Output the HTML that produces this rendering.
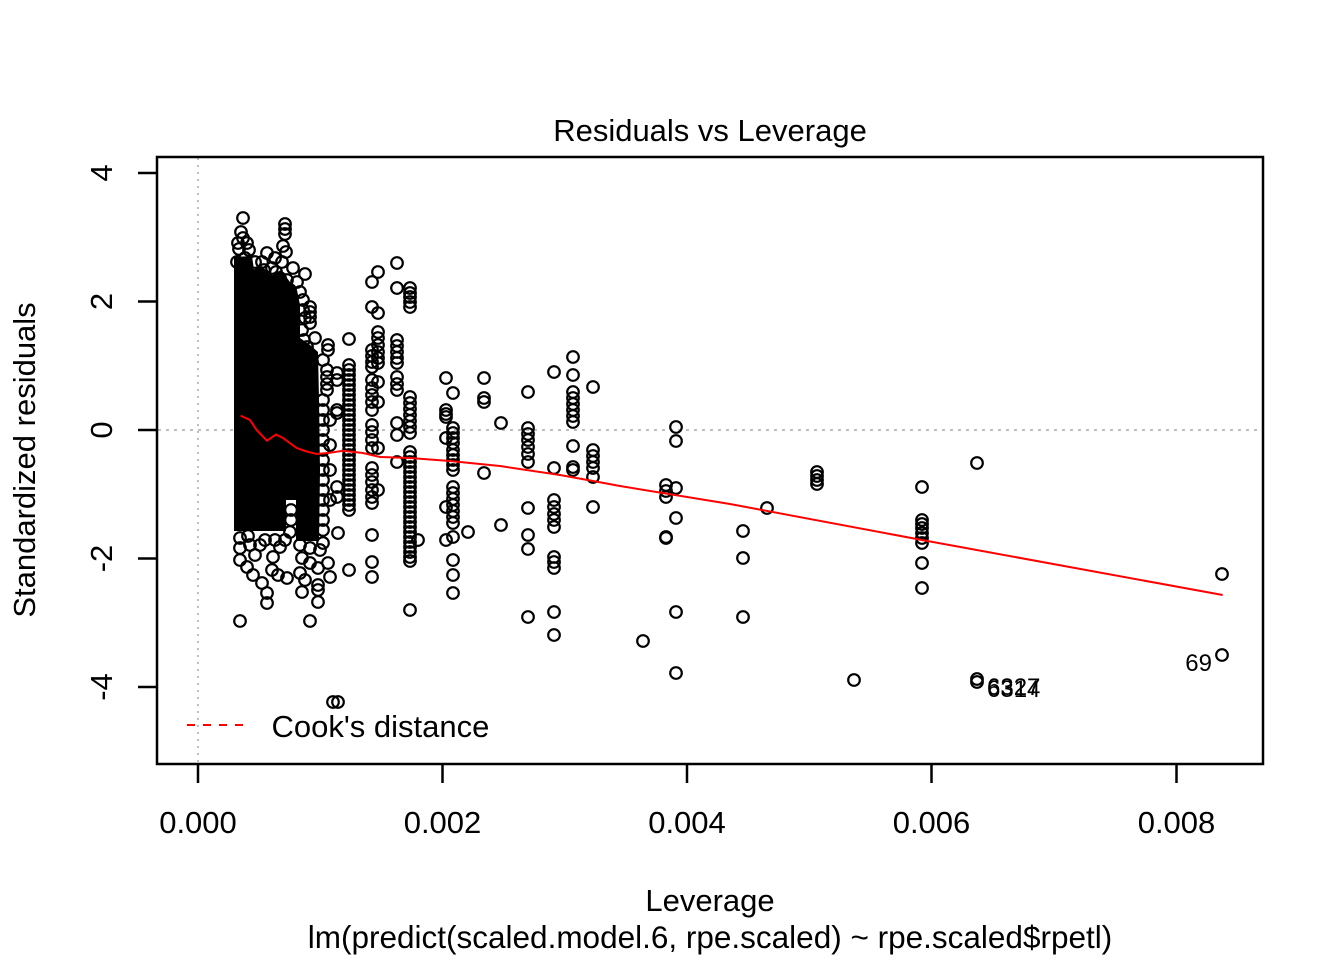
<!DOCTYPE html>
<html><head><meta charset="utf-8"><style>
html,body{margin:0;padding:0;background:#fff;}
svg{display:block;}
text{font-family:"Liberation Sans",Arial,sans-serif;fill:#000;}
</style></head><body>
<svg width="1344" height="960" viewBox="0 0 1344 960" xmlns="http://www.w3.org/2000/svg">
<rect width="1344" height="960" fill="#fff"/>
<line x1="198" y1="158" x2="198" y2="763" stroke="#bebebe" stroke-width="2" stroke-dasharray="2,5"/>
<line x1="158" y1="430" x2="1262" y2="430" stroke="#bebebe" stroke-width="2" stroke-dasharray="3,5"/>
<path d="M234,257 L252,256 L254,270 L262,266 L271,276 L281,270 L290,282 L297,290 L300,305 L300,338 L310,345 L318,352 L319,400 L320,470 L319,541 L296,541 L296,500 L286,500 L286,531 L234,531 Z" fill="#000"/>
<g fill="none" stroke="#000" stroke-width="2.2">
<circle cx="243" cy="218" r="5.8"/><circle cx="241" cy="232" r="5.8"/><circle cx="243" cy="238" r="5.8"/><circle cx="238" cy="243" r="5.8"/><circle cx="247" cy="243" r="5.8"/><circle cx="239" cy="249" r="5.8"/><circle cx="249" cy="250" r="5.8"/>
<circle cx="285" cy="224" r="5.8"/><circle cx="285" cy="229" r="5.8"/><circle cx="285" cy="234" r="5.8"/><circle cx="283" cy="246" r="5.8"/><circle cx="286" cy="252" r="5.8"/>
<circle cx="267" cy="253" r="5.8"/><circle cx="275" cy="258" r="5.8"/><circle cx="262" cy="262" r="5.8"/><circle cx="272" cy="268" r="5.8"/><circle cx="282" cy="262" r="5.8"/><circle cx="293" cy="268" r="5.8"/><circle cx="305" cy="274" r="5.8"/><circle cx="276" cy="272" r="5.8"/><circle cx="287" cy="280" r="5.8"/><circle cx="297" cy="282" r="5.8"/><circle cx="260" cy="283" r="5.8"/><circle cx="258" cy="295" r="5.8"/><circle cx="268" cy="300" r="5.8"/><circle cx="290" cy="290" r="5.8"/><circle cx="278" cy="288" r="5.8"/><circle cx="258" cy="275" r="5.8"/><circle cx="266" cy="285" r="5.8"/>
<circle cx="255" cy="262" r="5.8"/><circle cx="264" cy="270" r="5.8"/><circle cx="280" cy="278" r="5.8"/><circle cx="292" cy="298" r="5.8"/><circle cx="300" cy="292" r="5.8"/><circle cx="303" cy="300" r="5.8"/><circle cx="237" cy="262" r="5.8"/><circle cx="245" cy="258" r="5.8"/>
<circle cx="310" cy="307" r="5.8"/><circle cx="310" cy="312" r="5.8"/><circle cx="310" cy="317" r="5.8"/><circle cx="310" cy="323" r="5.8"/>
<circle cx="307" cy="347" r="5.8"/><circle cx="307" cy="352" r="5.8"/><circle cx="307" cy="357" r="5.8"/><circle cx="328" cy="345" r="5.8"/><circle cx="328" cy="350" r="5.8"/><circle cx="323" cy="360" r="5.8"/><circle cx="310" cy="370" r="5.8"/><circle cx="327" cy="370" r="5.8"/><circle cx="327" cy="377" r="5.8"/><circle cx="327" cy="384" r="5.8"/><circle cx="327" cy="390" r="5.8"/><circle cx="302" cy="330" r="5.8"/><circle cx="315" cy="338" r="5.8"/><circle cx="304" cy="340" r="5.8"/><circle cx="312" cy="362" r="5.8"/><circle cx="305" cy="318" r="5.8"/><circle cx="303" cy="310" r="5.8"/>
<circle cx="323" cy="400" r="5.8"/><circle cx="323" cy="410" r="5.8"/><circle cx="323" cy="420" r="5.8"/><circle cx="323" cy="430" r="5.8"/><circle cx="323" cy="440" r="5.8"/><circle cx="323" cy="450" r="5.8"/><circle cx="323" cy="460" r="5.8"/><circle cx="323" cy="470" r="5.8"/><circle cx="323" cy="480" r="5.8"/><circle cx="323" cy="490" r="5.8"/><circle cx="323" cy="500" r="5.8"/><circle cx="323" cy="510" r="5.8"/><circle cx="323" cy="520" r="5.8"/><circle cx="323" cy="530" r="5.8"/>
<circle cx="330" cy="420" r="5.8"/><circle cx="330" cy="445" r="5.8"/><circle cx="330" cy="470" r="5.8"/><circle cx="330" cy="500" r="5.8"/>
<circle cx="337" cy="373" r="5.8"/><circle cx="337" cy="380" r="5.8"/><circle cx="337" cy="410" r="5.8"/><circle cx="337" cy="413" r="5.8"/><circle cx="337" cy="487" r="5.8"/><circle cx="337" cy="497" r="5.8"/>
<circle cx="240" cy="538" r="5.8"/><circle cx="240" cy="548" r="5.8"/><circle cx="240" cy="560" r="5.8"/><circle cx="247" cy="567" r="5.8"/><circle cx="253" cy="575" r="5.8"/><circle cx="262" cy="583" r="5.8"/><circle cx="267" cy="593" r="5.8"/><circle cx="267" cy="603" r="5.8"/><circle cx="240" cy="621" r="5.8"/><circle cx="272" cy="570" r="5.8"/><circle cx="278" cy="575" r="5.8"/><circle cx="287" cy="578" r="5.8"/><circle cx="273" cy="557" r="5.8"/><circle cx="280" cy="547" r="5.8"/><circle cx="290" cy="532" r="5.8"/><circle cx="302" cy="558" r="5.8"/><circle cx="300" cy="573" r="5.8"/><circle cx="302" cy="592" r="5.8"/><circle cx="310" cy="563" r="5.8"/><circle cx="318" cy="568" r="5.8"/><circle cx="318" cy="585" r="5.8"/><circle cx="318" cy="590" r="5.8"/><circle cx="318" cy="602" r="5.8"/><circle cx="310" cy="621" r="5.8"/><circle cx="328" cy="563" r="5.8"/><circle cx="330" cy="577" r="5.8"/><circle cx="338" cy="533" r="5.8"/><circle cx="323" cy="543" r="5.8"/><circle cx="320" cy="550" r="5.8"/><circle cx="300" cy="545" r="5.8"/><circle cx="260" cy="545" r="5.8"/><circle cx="255" cy="555" r="5.8"/><circle cx="265" cy="540" r="5.8"/><circle cx="275" cy="540" r="5.8"/><circle cx="285" cy="540" r="5.8"/><circle cx="310" cy="548" r="5.8"/><circle cx="248" cy="536" r="5.8"/><circle cx="305" cy="580" r="5.8"/><circle cx="291" cy="510" r="5.8"/><circle cx="291" cy="520" r="5.8"/><circle cx="250" cy="545" r="5.8"/>
<circle cx="333" cy="702" r="5.8"/><circle cx="338" cy="702" r="5.8"/>
<circle cx="349" cy="339" r="5.8"/><circle cx="349" cy="365" r="5.8"/><circle cx="349" cy="370" r="5.8"/><circle cx="349" cy="375" r="5.8"/><circle cx="349" cy="380" r="5.8"/><circle cx="349" cy="385" r="5.8"/><circle cx="349" cy="390" r="5.8"/><circle cx="349" cy="395" r="5.8"/><circle cx="349" cy="400" r="5.8"/><circle cx="349" cy="405" r="5.8"/><circle cx="349" cy="410" r="5.8"/><circle cx="349" cy="415" r="5.8"/><circle cx="349" cy="420" r="5.8"/><circle cx="349" cy="425" r="5.8"/><circle cx="349" cy="430" r="5.8"/><circle cx="349" cy="435" r="5.8"/><circle cx="349" cy="440" r="5.8"/><circle cx="349" cy="445" r="5.8"/><circle cx="349" cy="450" r="5.8"/><circle cx="349" cy="455" r="5.8"/><circle cx="349" cy="460" r="5.8"/><circle cx="349" cy="465" r="5.8"/><circle cx="349" cy="470" r="5.8"/><circle cx="349" cy="475" r="5.8"/><circle cx="349" cy="480" r="5.8"/><circle cx="349" cy="485" r="5.8"/><circle cx="349" cy="490" r="5.8"/><circle cx="349" cy="495" r="5.8"/><circle cx="349" cy="500" r="5.8"/><circle cx="349" cy="505" r="5.8"/><circle cx="349" cy="510" r="5.8"/><circle cx="349" cy="570" r="5.8"/>
<circle cx="372" cy="282" r="5.8"/><circle cx="372" cy="307" r="5.8"/><circle cx="372" cy="350" r="5.8"/><circle cx="372" cy="356" r="5.8"/><circle cx="372" cy="362" r="5.8"/><circle cx="372" cy="367" r="5.8"/><circle cx="372" cy="380" r="5.8"/><circle cx="372" cy="388" r="5.8"/><circle cx="372" cy="395" r="5.8"/><circle cx="372" cy="402" r="5.8"/><circle cx="372" cy="410" r="5.8"/><circle cx="372" cy="425" r="5.8"/><circle cx="372" cy="432" r="5.8"/><circle cx="372" cy="440" r="5.8"/><circle cx="372" cy="448" r="5.8"/><circle cx="372" cy="468" r="5.8"/><circle cx="372" cy="475" r="5.8"/><circle cx="372" cy="482" r="5.8"/><circle cx="372" cy="490" r="5.8"/><circle cx="372" cy="497" r="5.8"/><circle cx="372" cy="503" r="5.8"/><circle cx="372" cy="535" r="5.8"/><circle cx="372" cy="562" r="5.8"/><circle cx="372" cy="577" r="5.8"/>
<circle cx="378" cy="272" r="5.8"/><circle cx="378" cy="313" r="5.8"/><circle cx="378" cy="332" r="5.8"/><circle cx="378" cy="338" r="5.8"/><circle cx="378" cy="345" r="5.8"/><circle cx="378" cy="352" r="5.8"/><circle cx="378" cy="358" r="5.8"/><circle cx="378" cy="363" r="5.8"/><circle cx="378" cy="382" r="5.8"/><circle cx="378" cy="402" r="5.8"/><circle cx="378" cy="448" r="5.8"/><circle cx="378" cy="490" r="5.8"/>
<circle cx="397" cy="263" r="5.8"/><circle cx="397" cy="288" r="5.8"/><circle cx="397" cy="340" r="5.8"/><circle cx="397" cy="346" r="5.8"/><circle cx="397" cy="352" r="5.8"/><circle cx="397" cy="358" r="5.8"/><circle cx="397" cy="363" r="5.8"/><circle cx="397" cy="377" r="5.8"/><circle cx="397" cy="384" r="5.8"/><circle cx="397" cy="390" r="5.8"/><circle cx="397" cy="423" r="5.8"/><circle cx="397" cy="435" r="5.8"/><circle cx="397" cy="462" r="5.8"/>
<circle cx="410" cy="288" r="5.8"/><circle cx="410" cy="293" r="5.8"/><circle cx="410" cy="297" r="5.8"/><circle cx="410" cy="302" r="5.8"/><circle cx="410" cy="307" r="5.8"/><circle cx="410" cy="397" r="5.8"/><circle cx="410" cy="403" r="5.8"/><circle cx="410" cy="409" r="5.8"/><circle cx="410" cy="415" r="5.8"/><circle cx="410" cy="421" r="5.8"/><circle cx="410" cy="427" r="5.8"/><circle cx="410" cy="433" r="5.8"/>
<circle cx="410" cy="452" r="5.8"/><circle cx="410" cy="457" r="5.8"/><circle cx="410" cy="462" r="5.8"/><circle cx="410" cy="467" r="5.8"/><circle cx="410" cy="472" r="5.8"/><circle cx="410" cy="477" r="5.8"/><circle cx="410" cy="482" r="5.8"/><circle cx="410" cy="487" r="5.8"/><circle cx="410" cy="492" r="5.8"/><circle cx="410" cy="497" r="5.8"/><circle cx="410" cy="502" r="5.8"/><circle cx="410" cy="507" r="5.8"/><circle cx="410" cy="512" r="5.8"/><circle cx="410" cy="517" r="5.8"/><circle cx="410" cy="522" r="5.8"/><circle cx="410" cy="527" r="5.8"/><circle cx="410" cy="532" r="5.8"/><circle cx="410" cy="537" r="5.8"/><circle cx="410" cy="542" r="5.8"/><circle cx="410" cy="547" r="5.8"/><circle cx="410" cy="552" r="5.8"/><circle cx="410" cy="557" r="5.8"/><circle cx="410" cy="561" r="5.8"/><circle cx="410" cy="610" r="5.8"/><circle cx="418" cy="540" r="5.8"/>
<circle cx="446" cy="378" r="5.8"/><circle cx="446" cy="410" r="5.8"/><circle cx="446" cy="414" r="5.8"/><circle cx="446" cy="417" r="5.8"/><circle cx="446" cy="438" r="5.8"/><circle cx="446" cy="507" r="5.8"/><circle cx="446" cy="540" r="5.8"/>
<circle cx="453" cy="393" r="5.8"/><circle cx="453" cy="428" r="5.8"/><circle cx="453" cy="433" r="5.8"/><circle cx="453" cy="438" r="5.8"/><circle cx="453" cy="443" r="5.8"/><circle cx="453" cy="450" r="5.8"/><circle cx="453" cy="455" r="5.8"/><circle cx="453" cy="460" r="5.8"/><circle cx="453" cy="465" r="5.8"/><circle cx="453" cy="470" r="5.8"/><circle cx="453" cy="487" r="5.8"/><circle cx="453" cy="493" r="5.8"/><circle cx="453" cy="499" r="5.8"/><circle cx="453" cy="505" r="5.8"/><circle cx="453" cy="511" r="5.8"/><circle cx="453" cy="517" r="5.8"/><circle cx="453" cy="523" r="5.8"/><circle cx="453" cy="537" r="5.8"/><circle cx="453" cy="560" r="5.8"/><circle cx="453" cy="575" r="5.8"/><circle cx="453" cy="593" r="5.8"/>
<circle cx="468" cy="532" r="5.8"/>
<circle cx="484" cy="378" r="5.8"/><circle cx="484" cy="398" r="5.8"/><circle cx="484" cy="402" r="5.8"/><circle cx="484" cy="473" r="5.8"/>
<circle cx="501" cy="423" r="5.8"/><circle cx="501" cy="525" r="5.8"/>
<circle cx="528" cy="392" r="5.8"/><circle cx="528" cy="428" r="5.8"/><circle cx="528" cy="434" r="5.8"/><circle cx="528" cy="440" r="5.8"/><circle cx="528" cy="447" r="5.8"/><circle cx="528" cy="454" r="5.8"/><circle cx="528" cy="462" r="5.8"/><circle cx="528" cy="508" r="5.8"/><circle cx="528" cy="535" r="5.8"/><circle cx="528" cy="549" r="5.8"/><circle cx="528" cy="617" r="5.8"/>
<circle cx="554" cy="372" r="5.8"/><circle cx="554" cy="468" r="5.8"/><circle cx="554" cy="500" r="5.8"/><circle cx="554" cy="507" r="5.8"/><circle cx="554" cy="514" r="5.8"/><circle cx="554" cy="520" r="5.8"/><circle cx="554" cy="527" r="5.8"/><circle cx="554" cy="557" r="5.8"/><circle cx="554" cy="562" r="5.8"/><circle cx="554" cy="568" r="5.8"/><circle cx="554" cy="612" r="5.8"/><circle cx="554" cy="635" r="5.8"/>
<circle cx="573" cy="357" r="5.8"/><circle cx="573" cy="375" r="5.8"/><circle cx="573" cy="392" r="5.8"/><circle cx="573" cy="398" r="5.8"/><circle cx="573" cy="404" r="5.8"/><circle cx="573" cy="410" r="5.8"/><circle cx="573" cy="416" r="5.8"/><circle cx="573" cy="422" r="5.8"/><circle cx="573" cy="446" r="5.8"/><circle cx="573" cy="467" r="5.8"/><circle cx="573" cy="470" r="5.8"/>
<circle cx="593" cy="387" r="5.8"/><circle cx="593" cy="450" r="5.8"/><circle cx="593" cy="456" r="5.8"/><circle cx="593" cy="462" r="5.8"/><circle cx="593" cy="468" r="5.8"/><circle cx="593" cy="477" r="5.8"/><circle cx="593" cy="507" r="5.8"/>
<circle cx="643" cy="641" r="5.8"/>
<circle cx="666" cy="485" r="5.8"/><circle cx="666" cy="491" r="5.8"/><circle cx="666" cy="497" r="5.8"/><circle cx="666" cy="537" r="5.8"/><circle cx="666" cy="538" r="5.8"/>
<circle cx="676" cy="427" r="5.8"/><circle cx="676" cy="441" r="5.8"/><circle cx="676" cy="488" r="5.8"/><circle cx="676" cy="518" r="5.8"/><circle cx="676" cy="612" r="5.8"/><circle cx="676" cy="673" r="5.8"/>
<circle cx="743" cy="531" r="5.8"/><circle cx="743" cy="558" r="5.8"/><circle cx="743" cy="617" r="5.8"/>
<circle cx="767" cy="508" r="5.8"/>
<circle cx="817" cy="472" r="5.8"/><circle cx="817" cy="476" r="5.8"/><circle cx="817" cy="480" r="5.8"/><circle cx="817" cy="484" r="5.8"/>
<circle cx="854" cy="680" r="5.8"/>
<circle cx="922" cy="487" r="5.8"/><circle cx="922" cy="520" r="5.8"/><circle cx="922" cy="524" r="5.8"/><circle cx="922" cy="528" r="5.8"/><circle cx="922" cy="533" r="5.8"/><circle cx="922" cy="538" r="5.8"/><circle cx="922" cy="543" r="5.8"/><circle cx="922" cy="563" r="5.8"/><circle cx="922" cy="588" r="5.8"/>
<circle cx="977" cy="463" r="5.8"/><circle cx="977" cy="679" r="5.8"/><circle cx="977" cy="682" r="5.8"/>
<circle cx="1222" cy="574" r="5.8"/><circle cx="1222" cy="655" r="5.8"/>
</g>
<polyline fill="none" stroke="#ff0000" stroke-width="2" points="240.7,415.7 250,420 256.7,430 267,440.7 276,434.5 283,438 296.7,448 305,451 316.7,454 330,452.7 343,450.7 363,453 380,457 410,458 450,461 500,466 560,475 593,481 620,486 730,504 922,540 1222.7,595"/>
<text x="1212" y="671" font-size="24" text-anchor="end">69</text>
<text x="987" y="695" font-size="24">6327</text>
<text x="987" y="697" font-size="24">6314</text>
<line x1="187" y1="725" x2="245" y2="725" stroke="#ff0000" stroke-width="2" stroke-dasharray="8,8"/>
<text x="271.5" y="737" font-size="31">Cook's distance</text>
<rect x="157" y="157" width="1106" height="607" fill="none" stroke="#000" stroke-width="2.5"/>
<g stroke="#000" stroke-width="2.5">
<line x1="198" y1="764" x2="198" y2="783"/><line x1="442.5" y1="764" x2="442.5" y2="783"/><line x1="687" y1="764" x2="687" y2="783"/><line x1="931.5" y1="764" x2="931.5" y2="783"/><line x1="1176.5" y1="764" x2="1176.5" y2="783"/>
<line x1="138" y1="173" x2="157" y2="173"/><line x1="138" y1="301.5" x2="157" y2="301.5"/><line x1="138" y1="430" x2="157" y2="430"/><line x1="138" y1="558.5" x2="157" y2="558.5"/><line x1="138" y1="687" x2="157" y2="687"/>
</g>
<g font-size="31" text-anchor="middle">
<text x="198" y="833">0.000</text>
<text x="442.5" y="833">0.002</text>
<text x="687" y="833">0.004</text>
<text x="931.5" y="833">0.006</text>
<text x="1176.5" y="833">0.008</text>
<text transform="translate(112,173) rotate(-90)">4</text>
<text transform="translate(112,301.5) rotate(-90)">2</text>
<text transform="translate(112,430) rotate(-90)">0</text>
<text transform="translate(112,558.5) rotate(-90)">-2</text>
<text transform="translate(112,687) rotate(-90)">-4</text>
<text transform="translate(35,460) rotate(-90)">Standardized residuals</text>
<text x="710" y="141">Residuals vs Leverage</text>
<text x="710" y="911">Leverage</text>
<text x="710" y="948" font-size="31.5">lm(predict(scaled.model.6, rpe.scaled) ~ rpe.scaled$rpetl)</text>
</g>
</svg>
</body></html>
